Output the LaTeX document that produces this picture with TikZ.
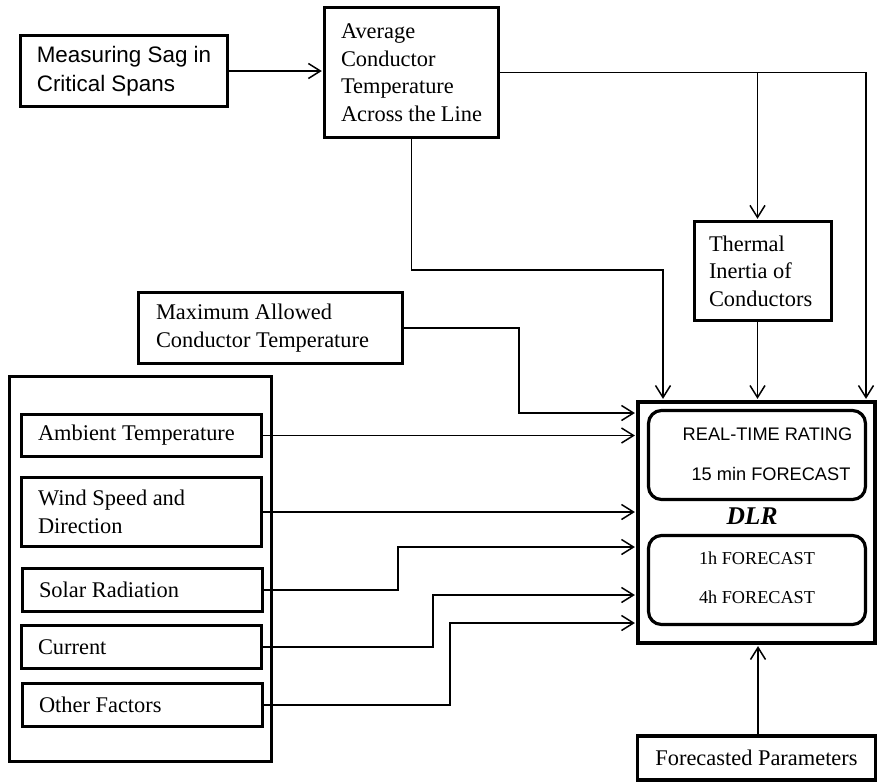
\documentclass[tikz,border=0pt]{standalone}
\usepackage{fontspec}
\setmainfont{Liberation Serif}
\setsansfont{Liberation Sans}
\usetikzlibrary{arrows.meta,calc}
\newcommand\nospreadspaces{\spaceskip 0pt\relax\xspaceskip 0pt\relax}
\begin{document}
\begin{tikzpicture}[x=1pt,y=-1pt,
  box/.style={draw, line width=3.4pt, inner sep=0pt, align=left,
    font=\fontsize{22.4}{27.5}\selectfont,
    execute at begin node={\nospreadspaces}},
  rbox/.style={draw, line width=3.2pt, rounded corners=13pt, inner sep=0pt},
  small/.style={inner sep=0pt, font=\fontsize{18.2}{22}\selectfont},
  arr/.style={line width=1.5pt, -{Straight Barb[length=12pt,width=15pt]}, shorten >=1pt}]
\useasboundingbox (0,0) rectangle (878,782);

% boxes
\node[box, minimum width=207, minimum height=71, font=\sffamily\fontsize{22.4}{29}\selectfont] (meas) at (124,71) {Measuring Sag in\\Critical Spans};
\node[box, minimum width=174, minimum height=130, text width=141] (avg) at (411.5,72.5) {Average\\Conductor\\Temperature\\Across the Line};
\node[box, minimum width=137, minimum height=99, text width=108] (therm) at (763,271) {Thermal\\Inertia of\\Conductors};
\node[box, minimum width=264, minimum height=71, text width=229] (maxT) at (270.5,328) {Maximum Allowed\\Conductor Temperature};

\node[draw, line width=3pt, minimum width=262, minimum height=385] (outer) at (140.5,569) {};
\node[box, minimum width=240, minimum height=42, text width=207] (amb) at (141.5,435.5) {Ambient Temperature};
\node[box, minimum width=240, minimum height=69, text width=207] (wind) at (141.5,512) {Wind Speed and\\Direction};
\node[box, minimum width=240, minimum height=43, text width=207] (solar) at (142.5,590) {Solar Radiation};
\node[box, minimum width=240, minimum height=43, text width=207] (curr) at (141.5,647) {Current};
\node[box, minimum width=240, minimum height=43, text width=207] (other) at (142.5,705) {Other Factors};

\node[draw, line width=4.2pt, minimum width=237, minimum height=241, inner sep=0pt] (dlr) at (756.5,522.5) {};
\node[rbox, minimum width=217, minimum height=89] (rr1) at (757,455) {};
\node[rbox, minimum width=217, minimum height=89] (rr2) at (757,580) {};
\node[small, font=\sffamily\fontsize{18.2}{22}\selectfont] (rt) at (767.5,434) {REAL-TIME RATING};
\node[small, font=\sffamily\fontsize{18.2}{22}\selectfont] (f15) at (771,474) {15 min FORECAST};
\node[inner sep=0pt, font=\fontsize{25.5}{30}\selectfont\bfseries\itshape] (dlrlab) at (752,516) {DLR};
\node[small] (f1h) at (757,558) {1h FORECAST};
\node[small] (f4h) at (757,597) {4h FORECAST};

\node[box, line width=3.6pt, align=center, minimum width=238, minimum height=44] (fc) at (756.5,758) {Forecasted Parameters};

% helper coordinates
\coordinate (xR) at (866,0);
\coordinate (xM) at (757.5,0);
\coordinate (c1) at (663,270);
\coordinate (c2) at (519,413);
\coordinate (c3) at (398,547);
\coordinate (c4) at (433,595);
\coordinate (c5) at (450,623);

% connectors
\draw[arr] (meas.east) -- (meas.east -| avg.west);
\draw[arr] (avg.east) -| (xR |- dlr.north);
\draw[arr] (avg.east -| xM) -- (xM |- therm.north);
\draw[arr] (xM |- therm.south) -- (xM |- dlr.north);
\draw[arr] (avg.south) |- (c1) -- (c1 |- dlr.north);
\draw[arr] (maxT.east) -| (c2) -- (c2 -| dlr.west);
\draw[arr] (amb.east) -- (amb.east -| dlr.west);
\draw[arr] (wind.east) -- (wind.east -| dlr.west);
\draw[arr] (solar.east) -| (c3) -- (c3 -| dlr.west);
\draw[arr] (curr.east) -| (c4) -- (c4 -| dlr.west);
\draw[arr] (other.east) -| (c5) -- (c5 -| dlr.west);
\draw[arr] (fc.north -| 758,0) -- (dlr.south -| 758,0);
\end{tikzpicture}
\end{document}
